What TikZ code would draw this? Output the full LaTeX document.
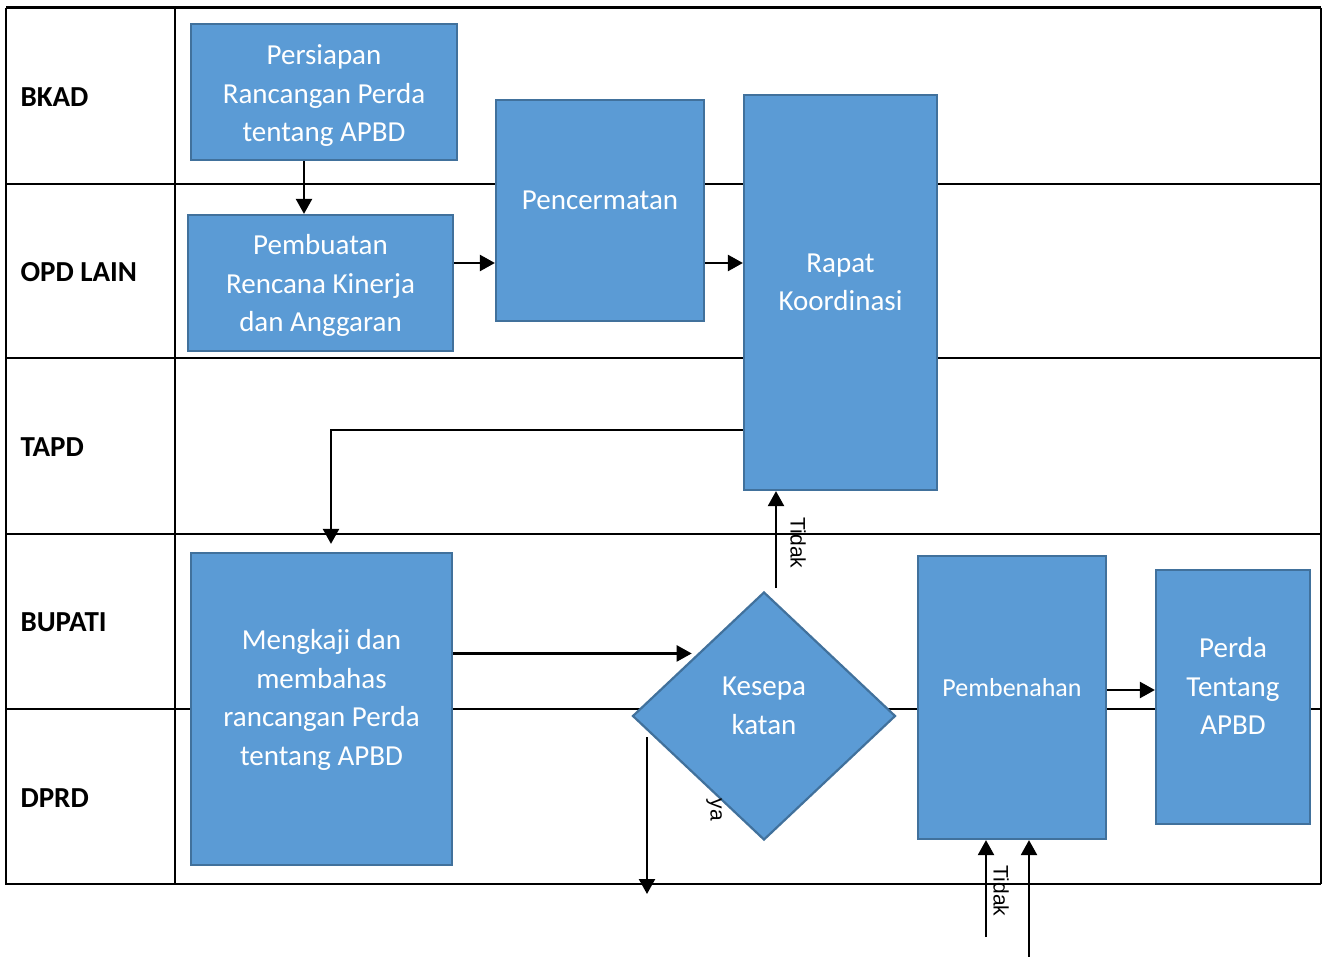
\documentclass[tikz,border=0pt]{standalone}
\usepackage{fontspec}
\setmainfont{Carlito}
\newfontfamily\arialfont{Liberation Sans}
\usetikzlibrary{shapes.geometric,arrows.meta}
\definecolor{boxfill}{HTML}{5B9BD5}
\definecolor{boxline}{HTML}{41719C}

\begin{document}
\begin{tikzpicture}[x=1pt, y=-1pt,
		box/.style={draw=boxline, fill=boxfill, line width=2.2pt, inner sep=0pt},
		txt/.style={text=white, align=center, font=\fontsize{29}{38.5}\selectfont},
		lane/.style={anchor=west, font=\fontsize{29}{35}\selectfont\bfseries},
		side/.style={font=\arialfont\fontsize{21}{24}\selectfont, rotate=-90, inner sep=0pt},
		arr/.style={-{Triangle[length=15pt,width=16pt]}, line width=2.3pt}]
	\useasboundingbox (0,0) rectangle (1322,957);
	% lanes
	\draw[line width=3pt] (6,8) -- (1321,8);
	\draw[line width=2.3pt] (6,8) -- (6,884) -- (1321,884);
	\draw[line width=1.2pt] (1321,8) -- (1321,884);
	\draw[line width=2.3pt] (175,8) -- (175,884);
	\foreach \y in {184,358,534,709}
		\draw[line width=2.3pt] (6,\y) -- (1321,\y);
	\foreach \y/\name [count=\i] in {97/BKAD, 272/OPD LAIN, 447/TAPD, 622/BUPATI, 798/DPRD}
		\node[lane] (lane\i) at (17,\y) {\name};

	% boxes
	\node[box, minimum width=266pt, minimum height=136pt,
		label={[txt, yshift=-4pt]center:Persiapan\\Rancangan Perda\\tentang APBD}] (persiapan) at (324,92) {};
	\node[box, minimum width=265pt, minimum height=136pt,
		label={[txt, yshift=-2.5pt]center:Pembuatan\\Rencana Kinerja\\dan Anggaran}] (pembuatan) at (320.5,283) {};
	\node[box, minimum width=208pt, minimum height=221pt,
		label={[txt, yshift=10pt]center:Pencermatan}] (cermat) at (600,210.5) {};
	\node[box, minimum width=193pt, minimum height=395pt,
		label={[txt, yshift=10pt]center:Rapat\\Koordinasi}] (rapat) at (840.5,292.5) {};
	\node[box, minimum width=261pt, minimum height=312pt,
		label={[txt, yshift=9pt]center:Mengkaji dan\\membahas\\rancangan Perda\\tentang APBD}] (kaji) at (321.5,709) {};
	\node[box, diamond, minimum width=263pt, minimum height=248pt,
		label={[txt, yshift=10pt]center:Kesepa\\katan}] (sepakat) at (764,716) {};
	\node[box, minimum width=188pt, minimum height=283pt,
		label={[txt, yshift=10pt, font=\fontsize{26}{32}\selectfont]center:Pembenahan}] (benah) at (1012,697.5) {};
	\node[box, minimum width=154pt, minimum height=254pt,
		label={[txt, yshift=11pt]center:Perda\\Tentang\\APBD}] (perda) at (1233,697) {};

	% free ends
	\coordinate (tidakA) at (776,588);
	\coordinate (yaA) at (647,737);
	\coordinate (yaB) at (647,894);
	\coordinate (tidakB) at (986,937);
	\coordinate (tidakC) at (1029,957);

	% connectors
	\draw[arr] (persiapan.south -| 304,0) -- (pembuatan.north -| 304,0);
	\draw[arr] (pembuatan.east |- 0,263) -- (cermat.west |- 0,263);
	\draw[arr] (cermat.east |- 0,263) -- (rapat.west |- 0,263);
	\draw[arr, shorten >=8pt] (rapat.west |- 0,430) -| (kaji.north -| 331,0);
	\draw[arr, shorten >=6pt] (kaji.east |- sepakat.north west) -- (sepakat.north west);
	\draw[arr] (tidakA) -- (rapat.south -| tidakA);
	\draw[arr] (yaA) -- (yaB);
	\draw[arr] (tidakB) -- (benah.south -| tidakB);
	\draw[arr] (tidakC) -- (benah.south -| tidakC);
	\draw[arr] (benah.east |- 0,690) -- (perda.west |- 0,690);

	% labels
	\node[side] (tidak1) at (798,543) {Tidak};
	\node[side] (ya) at (714,810) {ya};
	\node[side] (tidak2) at (1001,891) {Tidak};
\end{tikzpicture}
\end{document}
